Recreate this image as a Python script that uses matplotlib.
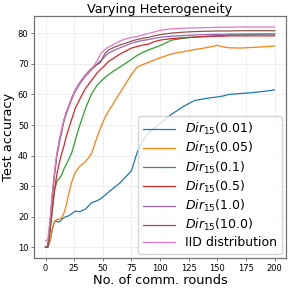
import matplotlib
matplotlib.use('Agg')
import matplotlib.pyplot as plt

# communication rounds (shared x) and test accuracy per partition
rounds = [0, 2, 4, 6, 8, 10, 12, 14, 16, 18, 20, 23, 26, 30, 35, 40, 45, 48, 52, 55,
          60, 65, 70, 75, 80, 85, 90, 95, 100, 110, 120, 130, 140, 150, 155, 160, 170, 180, 190, 200]

acc_001 = [10, 10, 12, 16, 18.5, 18.4, 18.2, 19, 19.6, 20, 20.2, 21, 21.8, 21.6, 22.5, 24.5, 25.2, 25.8, 27, 28,
           29.5, 31, 33, 35, 41, 45, 47.5, 49, 50.5, 53.5, 56, 58, 58.7, 59.2, 59.5, 60, 60.3, 60.6, 61, 61.5]
acc_005 = [10, 10, 12, 16, 18.5, 19, 19.2, 19.5, 21, 23.5, 27, 31.5, 34.5, 36.5, 38, 40.5, 46, 49, 52.5, 54.5,
           57.5, 60.5, 63.5, 66.5, 69, 69.8, 70.5, 71.3, 72, 73.3, 74, 74.7, 75.3, 76.1, 75.6, 75.3, 75.2, 75.4, 75.6, 75.9]
acc_01 = [10, 10, 15, 22, 29, 31.5, 32.5, 33.5, 35.5, 37, 38.5, 41, 45, 50, 55.5, 60, 63, 64.2, 65.6, 66.5,
          67.8, 69, 70.2, 71.5, 72.8, 73.8, 74.6, 75.3, 76, 77.8, 78.4, 78.8, 79, 79.3, 79.4, 79.5, 79.6, 79.7, 79.8, 79.8]
acc_05 = [10, 10, 16, 23, 29, 34, 37.5, 40.5, 43, 46, 48.5, 52, 55.5, 58.5, 62, 64.5, 67, 68.2, 69.6, 70.8,
          72, 73.2, 74.2, 75.2, 75.7, 76.2, 76.5, 77.3, 77.8, 78.3, 78.6, 78.8, 79, 79.1, 79.1, 79.2, 79.2, 79.2, 79.2, 79.2]
acc_10 = [10, 10, 18, 27, 34, 40, 44, 47.5, 51, 53.5, 55.5, 58.5, 61, 63.5, 66, 68, 70, 71, 72.5, 73.5,
          74.5, 75.3, 76, 76.8, 77.3, 77.7, 78, 78.4, 78.7, 79.1, 79.3, 79.5, 79.6, 79.7, 79.7, 79.8, 79.8, 79.8, 79.8, 79.8]
acc_100 = [10, 10, 18, 27, 34.5, 40.5, 44.5, 48, 51.5, 54, 56, 59, 61.5, 64, 66.5, 68.5, 69.8, 70.5, 73.5, 74.5,
           75.5, 76.2, 76.8, 77.5, 78, 78.4, 78.7, 79.2, 79.6, 80.1, 80.4, 80.6, 80.7, 80.8, 80.8, 80.8, 80.9, 80.9, 80.9, 80.9]
acc_iid = [12, 12.5, 19, 28, 35, 41, 45, 48.5, 51.5, 54, 56, 59, 61.5, 64, 66.3, 68.2, 71, 73.2, 74.8, 75.5,
           76.5, 77.5, 78.2, 78.7, 79, 79.5, 80, 80.5, 81, 81.5, 81.7, 81.8, 81.9, 82, 82, 82, 82.1, 82.1, 82.1, 82.1]

labels = [r'$Dir_{15}(0.01)$', r'$Dir_{15}(0.05)$', r'$Dir_{15}(0.1)$', r'$Dir_{15}(0.5)$',
          r'$Dir_{15}(1.0)$', r'$Dir_{15}(10.0)$', 'IID distribution']
series = [acc_001, acc_005, acc_01, acc_05, acc_10, acc_100, acc_iid]

fig = plt.figure(figsize=(2.91, 2.91), dpi=100)
ax = fig.add_axes([0.117, 0.113, 0.866, 0.832])

for ys, lab in zip(series, labels):
    ax.plot(rounds, ys, lw=0.9, label=lab)

ax.set_title('Varying Heterogeneity', fontsize=9.3, pad=2)
ax.set_xlabel('No. of comm. rounds', fontsize=9.3, labelpad=1)
ax.set_ylabel('Test accuracy', fontsize=9.3, labelpad=2)
ax.set_xticks([0, 25, 50, 75, 100, 125, 150, 175, 200])
ax.set_yticks([10, 20, 30, 40, 50, 60, 70, 80])
ax.tick_params(labelsize=6, length=2.5, width=0.6, color='0.4', pad=1.5)
ax.grid(True, color='#ececec', lw=0.6)
ax.set_axisbelow(True)
for s in ax.spines.values():
    s.set_color('0.45')
    s.set_linewidth(0.9)

ax.legend(loc='lower right', fontsize=9, handlelength=2.6, labelspacing=0.25,
          borderpad=0.4, handletextpad=0.8, borderaxespad=0.3)

fig.savefig('out.png', dpi=100)
